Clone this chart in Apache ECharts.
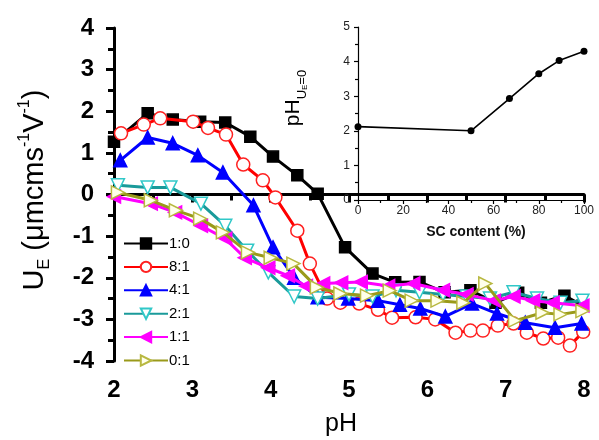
<!DOCTYPE html>
<html>
<head>
<meta charset="utf-8">
<script src="https://cdn.jsdelivr.net/npm/echarts@6/dist/echarts.min.js"></script>
<style>html,body{margin:0;padding:0;background:#fff;}#c{width:599px;height:440px;}</style>
</head>
<body>
<div id="c"></div>
<script>
// ---- Main chart data (pH vs U_E) ----
const seriesNames = ['1:0', '8:1', '4:1', '2:1', '1:1', '0:1'];
const ph_10 = [2.0, 2.43, 2.75, 3.1, 3.42, 3.74, 4.03, 4.34, 4.6, 4.95, 5.3, 5.59, 5.9, 6.22, 6.55, 6.87, 7.16, 7.45, 7.75, 7.98];
const ue_10 = [1.27, 1.95, 1.8, 1.75, 1.73, 1.39, 0.91, 0.46, 0.02, -1.27, -1.9, -2.11, -2.1, -2.35, -2.3, -2.6, -2.36, -2.6, -2.43, -2.67];
const ph_81 = [2.09, 2.38, 2.59, 3.01, 3.2, 3.43, 3.65, 3.9, 4.06, 4.34, 4.5, 4.72, 4.89, 5.13, 5.37, 5.55, 5.85, 6.1, 6.36, 6.55, 6.71, 6.9, 7.1, 7.27, 7.48, 7.67, 7.82, 7.99];
const ue_81 = [1.47, 1.68, 1.83, 1.75, 1.6, 1.44, 0.72, 0.34, -0.07, -0.87, -1.66, -2.5, -2.6, -2.62, -2.77, -2.96, -2.95, -3.0, -3.32, -3.27, -3.27, -3.15, -3.1, -3.32, -3.46, -3.44, -3.63, -3.3];
const ph_41 = [2.08, 2.43, 2.75, 3.07, 3.39, 3.78, 4.03, 4.3, 4.6, 4.99, 5.37, 5.65, 5.91, 6.23, 6.57, 6.89, 7.25, 7.63, 7.97];
const ue_41 = [0.82, 1.37, 1.23, 0.94, 0.53, -0.26, -1.27, -2.0, -2.47, -2.5, -2.55, -2.65, -2.74, -2.93, -2.62, -2.86, -3.08, -3.2, -3.1];
const ph_21 = [2.05, 2.43, 2.72, 3.11, 3.42, 3.7, 3.97, 4.3, 4.6, 5.0, 5.3, 5.6, 5.9, 6.2, 6.5, 6.8, 7.1, 7.4, 7.7, 7.98];
const ue_21 = [0.22, 0.17, 0.17, -0.22, -0.75, -1.35, -1.87, -2.45, -2.5, -2.4, -2.45, -2.3, -2.35, -2.4, -2.45, -2.5, -2.35, -2.5, -2.6, -2.55];
const ph_11 = [2.0, 2.47, 2.78, 3.11, 3.42, 3.67, 3.97, 4.22, 4.45, 4.67, 4.9, 5.15, 5.5, 5.82, 6.2, 6.5, 6.85, 7.1, 7.35, 7.6, 7.98];
const ue_11 = [-0.05, -0.22, -0.43, -0.75, -1.06, -1.52, -1.76, -1.95, -2.2, -2.14, -2.12, -2.1, -2.2, -2.14, -2.3, -2.4, -2.55, -2.45, -2.55, -2.6, -2.67];
const ph_01 = [2.05, 2.47, 2.79, 3.1, 3.39, 3.71, 4.0, 4.29, 4.59, 4.89, 5.23, 5.52, 5.8, 6.13, 6.46, 6.74, 7.12, 7.47, 7.7, 7.98];
const ue_01 = [0.05, -0.14, -0.38, -0.58, -0.91, -1.39, -1.52, -1.66, -2.23, -2.38, -2.43, -2.31, -2.55, -2.55, -2.6, -2.14, -3.03, -2.84, -2.88, -2.8];

// ---- Inset data ----
const scContent = [0, 50, 67, 80, 89, 100];
const phZero = [2.12, 2.0, 2.93, 3.65, 4.03, 4.3];

// ---- Axis ticks ----
const mainXTicks = [2, 3, 4, 5, 6, 7, 8];
const mainYTicks = [-4, -3, -2, -1, 0, 1, 2, 3, 4];
const insetXTicks = [0, 20, 40, 60, 80, 100];
const insetYTicks = [0, 1, 2, 3, 4, 5];

const zip = (xs, ys) => xs.map((x, i) => [x, ys[i]]);
const FONT = 'Arial, "Liberation Sans", sans-serif';

const styles = [
  {line: '#000000', fill: '#000000', border: '#000000', symbol: 'rect', size: 11, rot: 0},
  {line: '#ff0000', fill: '#ffffff', border: '#ff2020', symbol: 'circle', size: 13, rot: 0},
  {line: '#0000ff', fill: '#0000ff', border: '#0000ff', symbol: 'triangle', size: 13, rot: 0},
  {line: '#1a9a9a', fill: '#ffffff', border: '#30c8c8', symbol: 'triangle', size: 13, rot: 180},
  {line: '#ff00ff', fill: '#ff00ff', border: '#ff00ff', symbol: 'triangle', size: 13, rot: 90},
  {line: '#9a9a1a', fill: '#ffffea', border: '#b8b840', symbol: 'triangle', size: 13, rot: -90}
];
const dataSets = [zip(ph_10, ue_10), zip(ph_81, ue_81), zip(ph_41, ue_41), zip(ph_21, ue_21), zip(ph_11, ue_11), zip(ph_01, ue_01)];

const mainSeries = seriesNames.map((name, i) => ({
  name: name,
  type: 'line',
  xAxisIndex: 0, yAxisIndex: 0,
  data: dataSets[i],
  symbol: styles[i].symbol,
  symbolSize: styles[i].size,
  symbolRotate: styles[i].rot,
  showAllSymbol: true,
  lineStyle: {color: styles[i].line, width: 3},
  itemStyle: {color: styles[i].fill, borderColor: styles[i].border, borderWidth: 1.5},
  emphasis: {disabled: true},
  animation: false,
  z: 2 + i
}));

const chart = echarts.init(document.getElementById('c'), null, {renderer: 'canvas'});
chart.setOption({
  animation: false,
  backgroundColor: '#ffffff',
  grid: [
    {left: 114, top: 28, width: 470, height: 333},
    {left: 358, top: 27, width: 226, height: 173}
  ],
  legend: {
    orient: 'vertical',
    left: 118, top: 231,
    itemWidth: 44, itemHeight: 13, itemGap: 8.4,
    textStyle: {fontFamily: FONT, fontSize: 15, color: '#000', padding: [0, 0, 0, -4]},
    data: seriesNames
  },
  xAxis: [
    {
      type: 'value', gridIndex: 0, min: mainXTicks[0], max: mainXTicks[mainXTicks.length - 1], interval: 1,
      axisLine: {lineStyle: {color: '#000', width: 3}},
      axisTick: {inside: false, length: 8, lineStyle: {width: 3, color: '#000'}},
      minorTick: {show: true, splitNumber: 2, length: 6, lineStyle: {width: 3, color: '#000'}},
      splitLine: {show: false},
      axisLabel: {fontFamily: FONT, fontSize: 24, fontWeight: 'bold', color: '#000', margin: 17}
    },
    {
      type: 'value', gridIndex: 1, min: insetXTicks[0], max: insetXTicks[insetXTicks.length - 1], interval: 20,
      axisLine: {lineStyle: {color: '#000', width: 1.2}},
      axisTick: {inside: false, length: 4, lineStyle: {width: 1.2, color: '#000'}},
      minorTick: {show: true, splitNumber: 2, length: 3, lineStyle: {width: 1.2, color: '#000'}},
      splitLine: {show: false},
      axisLabel: {fontFamily: FONT, fontSize: 12, color: '#222', margin: 5}
    }
  ],
  yAxis: [
    {
      type: 'value', gridIndex: 0, min: mainYTicks[0], max: mainYTicks[mainYTicks.length - 1], interval: 1,
      axisLine: {lineStyle: {color: '#000', width: 3}},
      axisTick: {inside: false, length: 8, lineStyle: {width: 3, color: '#000'}},
      minorTick: {show: true, splitNumber: 2, length: 6, lineStyle: {width: 3, color: '#000'}},
      splitLine: {show: false},
      axisLabel: {fontFamily: FONT, fontSize: 24, fontWeight: 'bold', color: '#000', margin: 20}
    },
    {
      type: 'value', gridIndex: 1, min: insetYTicks[0], max: insetYTicks[insetYTicks.length - 1], interval: 1,
      axisLine: {lineStyle: {color: '#000', width: 1.2}},
      axisTick: {inside: false, length: 4, lineStyle: {width: 1.2, color: '#000'}},
      minorTick: {show: true, splitNumber: 2, length: 3, lineStyle: {width: 1.2, color: '#000'}},
      splitLine: {show: false},
      axisLabel: {fontFamily: FONT, fontSize: 12, color: '#222', margin: 8}
    }
  ],
  series: mainSeries.concat([{
    name: 'inset',
    type: 'line',
    xAxisIndex: 1, yAxisIndex: 1,
    data: zip(scContent, phZero),
    symbol: 'circle', symbolSize: 7,
    lineStyle: {color: '#000', width: 1.6},
    itemStyle: {color: '#000'},
    emphasis: {disabled: true},
    z: 10
  }]),
  graphic: [
    {
      type: 'text', x: 35, y: 190, rotation: Math.PI / 2,
      style: {
        text: '{m|U}{sub|E}{m| (μmcms}{sup|-1}{m|V}{sup|-1}{m|)}',
        align: 'center', verticalAlign: 'middle',
        fontFamily: FONT,
        rich: {
          m: {fontFamily: FONT, fontSize: 29, color: '#000', lineHeight: 36, verticalAlign: 'middle'},
          sub: {fontFamily: FONT, fontSize: 16, color: '#000', lineHeight: 36, verticalAlign: 'bottom'},
          sup: {fontFamily: FONT, fontSize: 16, color: '#000', lineHeight: 36, verticalAlign: 'top'}
        }
      }
    },
    {
      type: 'text', x: 341, y: 424,
      style: {text: 'pH', align: 'center', verticalAlign: 'middle', fontFamily: FONT, fontSize: 25, fill: '#000'}
    },
    {
      type: 'text', x: 476, y: 232,
      style: {text: 'SC content (%)', align: 'center', verticalAlign: 'middle', fontFamily: FONT, fontSize: 14, fontWeight: 'bold', fill: '#111'}
    },
    {
      type: 'text', x: 293, y: 98, rotation: Math.PI / 2,
      style: {
        text: '{m|pH}{sub|U}{sub2|E}{sub|=0}',
        align: 'center', verticalAlign: 'middle',
        fontFamily: FONT,
        rich: {
          m: {fontFamily: FONT, fontSize: 21, color: '#000', lineHeight: 28, verticalAlign: 'middle'},
          sub: {fontFamily: FONT, fontSize: 13, color: '#000', lineHeight: 28, verticalAlign: 'bottom'},
          sub2: {fontFamily: FONT, fontSize: 8, color: '#000', lineHeight: 32, verticalAlign: 'bottom'}
        }
      }
    }
  ]
});
</script>
</body>
</html>
